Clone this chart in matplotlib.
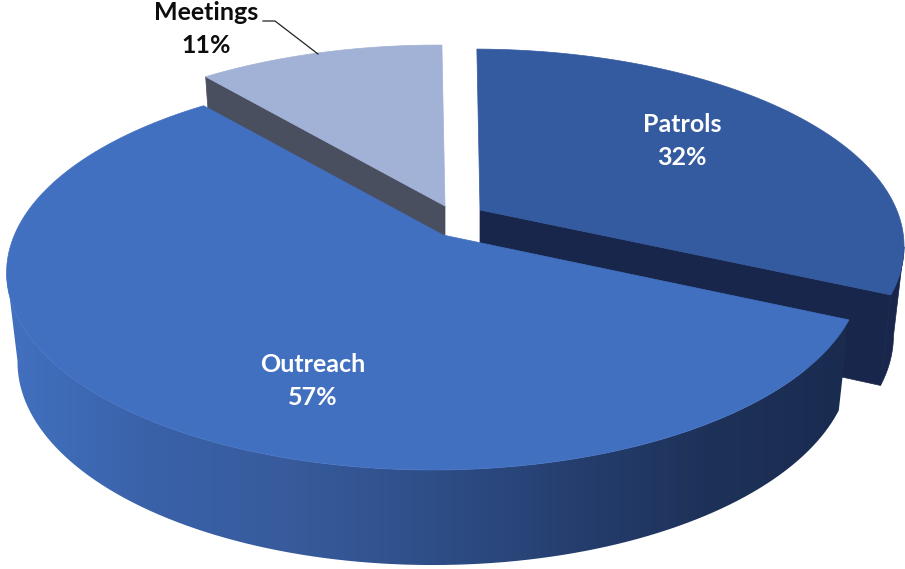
import numpy as np
import matplotlib
matplotlib.use("Agg")
import matplotlib.pyplot as plt
from matplotlib.colors import LinearSegmentedColormap
from matplotlib.patches import PathPatch, Polygon
from matplotlib.path import Path

categories = ["Patrols", "Outreach", "Meetings"]
shares = [32, 57, 11]

W, H = 905, 569

# camera: perspective pie, apex-relative pixels
RX, RY = 420.0, 191.0
KV, KU = 0.187, 0.02
DROP, LOW_SX, LOW_SY = 88.0, 0.975, 1.03
START = 90.5

APEX = {"Patrols": (480, 210), "Outreach": (443, 235), "Meetings": (445, 206)}
SIZE = {"Patrols": 1.012, "Outreach": 1.0, "Meetings": 1.0}
TOPS = {"Patrols": "#345A9F", "Outreach": "#4270C1", "Meetings": "#A2B1D6"}
WALLS = {"Patrols": "#17264A", "Outreach": "#1B2D55", "Meetings": "#4A4F60"}
LABELS = {"Patrols": (682, 141), "Outreach": (313, 381)}


def project(theta, name, low=False):
    """Pie angle (deg) -> pixels; low=True gives the rim of the bottom face."""
    apex = APEX[name]
    t = np.radians(theta)
    u, v = np.cos(t), np.sin(t)
    w = 1 + KV * v + KU * u
    x, y = SIZE[name] * RX * u / w, -RY * v / w
    if low:
        return np.column_stack([apex[0] + LOW_SX * x, apex[1] + DROP + LOW_SY * y])
    return np.column_stack([apex[0] + x, apex[1] + y])


def wedge_angles():
    """Slice start/end angles, clockwise from the start angle."""
    edges = START - np.cumsum([0] + shares) * 3.6
    return {c: (edges[i], edges[i + 1]) for i, c in enumerate(categories)}


angles = wedge_angles()

fig = plt.figure(figsize=(W / 100, H / 100), dpi=100)
ax = fig.add_axes([0, 0, 1, 1])
ax.set_xlim(0, W)
ax.set_ylim(H, 0)
ax.axis("off")


def add_poly(pts, color, z):
    ax.add_patch(Polygon(pts, closed=True, fc=color, ec=color, lw=0.5, zorder=z))


# meetings and patrols sit behind outreach; each shows one cut face
for name, cut in (("Meetings", 0), ("Patrols", -1)):
    apex = APEX[name]
    th = np.linspace(*angles[name], 160)
    rim = project(th, name)
    rim_low = project(th, name, low=True)
    low_apex = (apex[0], apex[1] + DROP)
    if name == "Patrols":
        # only the part of the rim past the right-hand tangent is visible
        k = np.argmax(rim[:, 0])
        add_poly(np.vstack([rim[k:], rim_low[k:][::-1]]), WALLS[name], 1)
    add_poly(np.array([apex, rim[cut], rim_low[cut], low_apex]), WALLS[name], 1)
    add_poly(np.vstack([[apex], rim]), TOPS[name], 2)

# outreach side wall with its left-to-right shading
apex = APEX["Outreach"]
th = np.linspace(*angles["Outreach"], 300)
rim = project(th, "Outreach")
rim_low = project(th, "Outreach", low=True)
side_cmap = LinearSegmentedColormap.from_list(
    "side", ["#4271C0", "#3A62A9", "#375B9C", "#2F4F89", "#263F70", "#1E3259", "#1A2B50"])
k = np.argmin(rim[:, 0])
wall = np.vstack([rim[:k + 1], rim_low[:k + 1][::-1]])
img = ax.imshow(np.linspace(0, 1, 256)[None, :], cmap=side_cmap, aspect="auto",
                extent=[5, 845, H, 0], zorder=3)
clip = PathPatch(Path(np.vstack([wall, wall[:1]])), transform=ax.transData, fc="none", ec="none")
ax.add_patch(clip)
img.set_clip_path(clip)
ax.set_xlim(0, W)
ax.set_ylim(H, 0)
add_poly(np.vstack([[apex], rim]), TOPS["Outreach"], 4)

font = ["Lato", "DejaVu Sans"]
for i, name in enumerate(categories):
    if name in LABELS:
        ax.text(*LABELS[name], f"{name}\n{shares[i]}%", color="white", fontsize=18,
                fontweight="bold", family=font, ha="center", va="center",
                linespacing=1.5, zorder=6)

# meetings callout sits outside the pie
ax.text(206, 29, f"Meetings\n{shares[2]}%", color="#0D0D0D", fontsize=18,
        fontweight="bold", family=font, ha="center", va="center", linespacing=1.5, zorder=6)
ax.plot([263, 275, 318], [21, 21, 54], color="#222222", lw=0.9, zorder=6)

fig.savefig("out.png", dpi=100, facecolor="white")
